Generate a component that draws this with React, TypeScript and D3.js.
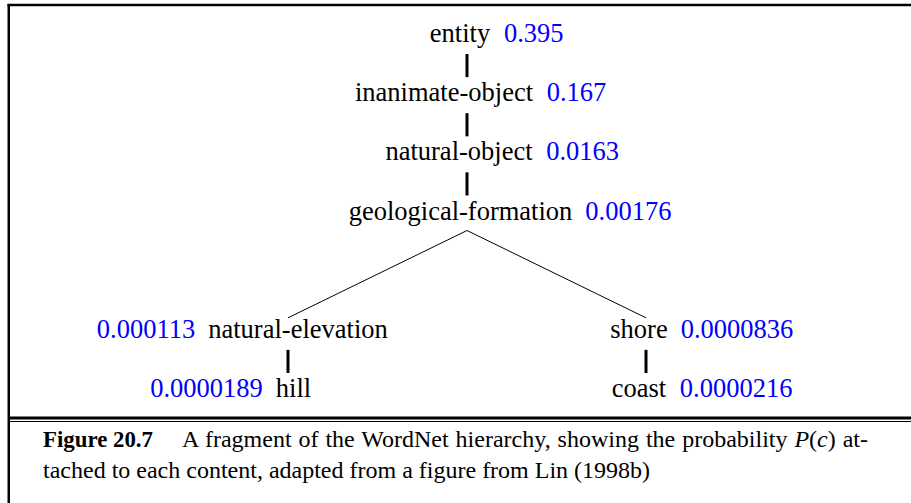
import { useEffect, useRef } from "react";
import * as d3 from "d3";

// WordNet fragment: concept names, their probabilities P(c), and parents
const NAMES = [
  "entity",
  "inanimate-object",
  "natural-object",
  "geological-formation",
  "natural-elevation",
  "shore",
  "hill",
  "coast",
];
const PROBS = ["0.395", "0.167", "0.0163", "0.00176", "0.000113", "0.0000836", "0.0000189", "0.0000216"];
const PARENTS = [-1, 0, 1, 2, 3, 3, 4, 5];

// layout of the drawing (row / column of each node, label tweaks)
const ROWS = [0, 1, 2, 3, 5, 5, 6, 6];
const COLS = [0, 0, 0, 0, -1, 1, -1, 1];
const NAME_DX = [-7, -23, -8, -6.5, 10, -7, 5.5, -7];
const PROB_LEFT = [false, false, false, false, true, false, true, false];

const CAPTION_NUM = "Figure 20.7";
const CAPTION_1 = ["A fragment of the WordNet hierarchy, showing the probability ", "P", "(", "c", ") at-"];
const CAPTION_2 = "tached to each content, adapted from a figure from Lin (1998b)";

const W = 911;
const H = 503;
const SERIF = "Liberation Serif, Times New Roman, serif";

export default function App() {
  const svgRef = useRef<SVGSVGElement | null>(null);

  useEffect(() => {
    const svg = d3.select(svgRef.current);
    svg.selectAll("*").remove();

    const x = d3.scaleLinear().domain([-1, 1]).range([288, 646]);
    const y = d3.scaleLinear().domain([0, 6]).range([42, 397]);

    // frame
    svg.append("rect").attr("width", W).attr("height", H).attr("fill", "#fff");
    svg.append("line").attr("x1", 7.5).attr("x2", W).attr("y1", 5).attr("y2", 5)
      .attr("stroke", "#000").attr("stroke-width", 2.5);
    svg.append("line").attr("x1", 8.75).attr("x2", 8.75).attr("y1", 4).attr("y2", H)
      .attr("stroke", "#000").attr("stroke-width", 2.5);
    svg.append("line").attr("x1", 8).attr("x2", W).attr("y1", 418).attr("y2", 418)
      .attr("stroke", "#000").attr("stroke-width", 3);
    svg.append("line").attr("x1", 8).attr("x2", W).attr("y1", 421.5).attr("y2", 421.5)
      .attr("stroke", "#000").attr("stroke-width", 1.2);

    // edges
    const g = svg.append("g");
    NAMES.forEach((_, i) => {
      const p = PARENTS[i];
      if (p < 0) return;
      if (COLS[p] === COLS[i] && ROWS[i] - ROWS[p] === 1) {
        g.append("line")
          .attr("x1", x(COLS[i])).attr("x2", x(COLS[i]))
          .attr("y1", y(ROWS[p]) + 12).attr("y2", y(ROWS[i]) - 24)
          .attr("stroke", "#000").attr("stroke-width", 3);
      } else {
        g.append("line")
          .attr("x1", x(COLS[p])).attr("y1", y(ROWS[p]) + 11)
          .attr("x2", x(COLS[i])).attr("y2", y(ROWS[i]) - 20)
          .attr("stroke", "#000").attr("stroke-width", 1);
      }
    });

    // labels
    NAMES.forEach((name, i) => {
      const t = g.append("text")
        .attr("x", x(COLS[i]) + NAME_DX[i]).attr("y", y(ROWS[i]))
        .attr("text-anchor", "middle")
        .attr("font-family", SERIF).attr("font-size", 26.5).attr("fill", "#000")
        .text(name);
      const bb = (t.node() as SVGTextElement).getBBox();
      g.append("text")
        .attr("x", PROB_LEFT[i] ? bb.x - 13 : bb.x + bb.width + 13)
        .attr("y", y(ROWS[i]))
        .attr("text-anchor", PROB_LEFT[i] ? "end" : "start")
        .attr("font-family", SERIF).attr("font-size", 26.5).attr("fill", "#0000ff")
        .text(PROBS[i]);
    });

    // caption, first line justified to the right margin
    const cap = svg.append("g").attr("font-family", SERIF).attr("font-size", 24).attr("fill", "#000");
    cap.append("text").attr("x", 43).attr("y", 447).attr("font-weight", "bold")
      .attr("textLength", 110).attr("lengthAdjust", "spacingAndGlyphs").text(CAPTION_NUM);
    const l1 = cap.append("text").attr("x", 182).attr("y", 447);
    CAPTION_1.forEach((s, i) => {
      l1.append("tspan").attr("font-style", i === 1 || i === 3 ? "italic" : null).text(s);
    });
    const n1 = (l1.node() as SVGTextElement).getComputedTextLength();
    const spaces = CAPTION_1.join("").split(" ").length - 1;
    l1.attr("word-spacing", Math.max(0, (868 - 182 - n1) / spaces));
    cap.append("text").attr("x", 43).attr("y", 478).text(CAPTION_2);
  }, []);

  return (
    <svg
      ref={svgRef}
      width={W}
      height={H}
      style={{ position: "absolute", left: 0, top: 0, display: "block" }}
    />
  );
}
